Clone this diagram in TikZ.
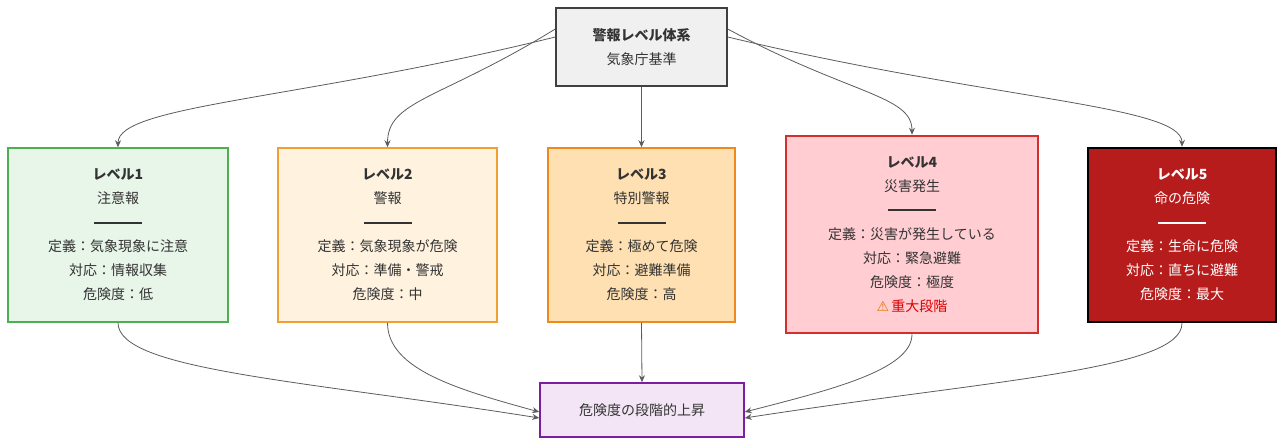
\documentclass[tikz,border=0pt]{standalone}
\usepackage{fontspec}
\setmainfont{Noto Sans CJK JP}
\newfontfamily\dejavu{DejaVu Sans}
\usetikzlibrary{arrows.meta}
\definecolor{g1}{HTML}{E8F5E9}\definecolor{g2}{HTML}{4CAF50}
\definecolor{o1}{HTML}{FFF3E0}\definecolor{o2}{HTML}{F0A030}
\definecolor{p1}{HTML}{FFE0B2}\definecolor{p2}{HTML}{EF8A1A}
\definecolor{r1}{HTML}{FFCDD2}\definecolor{r2}{HTML}{D32F2F}
\definecolor{d1}{HTML}{B71C1C}
\definecolor{v1}{HTML}{F3E5F5}\definecolor{v2}{HTML}{7B1FA2}
\definecolor{txt}{HTML}{333333}
\newcommand{\sepline}{\rule[4pt]{48pt}{2.2pt}}
\begin{document}
\begin{tikzpicture}[x=1pt,y=-1pt,
  box/.style={draw,line width=1.5pt,inner sep=0pt,align=center,text=txt,
    font=\fontsize{14}{24}\selectfont},
  edge/.style={draw=txt!80,line width=0.8pt,-{Stealth[length=7pt,width=6pt]}}]
\useasboundingbox (0,0) rectangle (1284,446);
\node[box,fill=black!6,draw=black!75,minimum width=171pt,minimum height=78pt] (top) at (641.5,47)
  {\textbf{警報レベル体系}\\気象庁基準};
\node[box,fill=g1,draw=g2,minimum width=220pt,minimum height=174pt] (l1) at (118,235)
  {\textbf{レベル1}\\注意報\\\sepline\\定義：気象現象に注意\\対応：情報収集\\危険度：低};
\node[box,fill=o1,draw=o2,minimum width=219pt,minimum height=174pt] (l2) at (387.5,235)
  {\textbf{レベル2}\\警報\\\sepline\\定義：気象現象が危険\\対応：準備・警戒\\危険度：中};
\node[box,fill=p1,draw=p2,minimum width=187pt,minimum height=174pt] (l3) at (641.5,235)
  {\textbf{レベル3}\\特別警報\\\sepline\\定義：極めて危険\\対応：避難準備\\危険度：高};
\node[box,fill=r1,draw=r2,line width=2.5pt,minimum width=252pt,minimum height=197pt] (l4) at (912,234.5)
  {\textbf{レベル4}\\災害発生\\\sepline\\定義：災害が発生している\\対応：緊急避難\\危険度：極度\\{\dejavu\color{orange!90!black}⚠}\,\textcolor{red!85!black}{重大段階}};
\node[box,fill=d1,draw=black,line width=2.5pt,text=white,minimum width=188pt,minimum height=174pt] (l5) at (1182,235)
  {\textbf{レベル5}\\命の危険\\\sepline\\定義：生命に危険\\対応：直ちに避難\\危険度：最大};
\node[box,fill=v1,draw=v2,minimum width=204pt,minimum height=54pt] (bot) at (642,410)
  {危険度の段階的上昇};
% top edges
\draw[edge] ([yshift=10pt]top.west) .. controls (300,100) and (118,105) .. (l1.north);
\draw[edge] ([yshift=18pt]top.west) .. controls (440,100) and (387.5,100) .. (l2.north);
\draw[edge] (top.south) -- (l3.north);
\draw[edge] ([yshift=18pt]top.east) .. controls (850,95) and (912,95) .. (l4.north);
\draw[edge] ([yshift=10pt]top.east) .. controls (990,100) and (1182,105) .. (l5.north);
% bottom edges
\draw[edge] (l1.south) .. controls (118,370) and (300,380) .. ([yshift=-8pt]bot.west);
\draw[edge] (l2.south) .. controls (387.5,370) and (460,390) .. ([yshift=-2pt]bot.west);
\draw[edge] (l3.south) -- (bot.north);
\draw[edge] (l4.south) .. controls (912,370) and (830,390) .. ([yshift=-2pt]bot.east);
\draw[edge] (l5.south) .. controls (1182,370) and (990,380) .. ([yshift=-8pt]bot.east);
\end{tikzpicture}
\end{document}
